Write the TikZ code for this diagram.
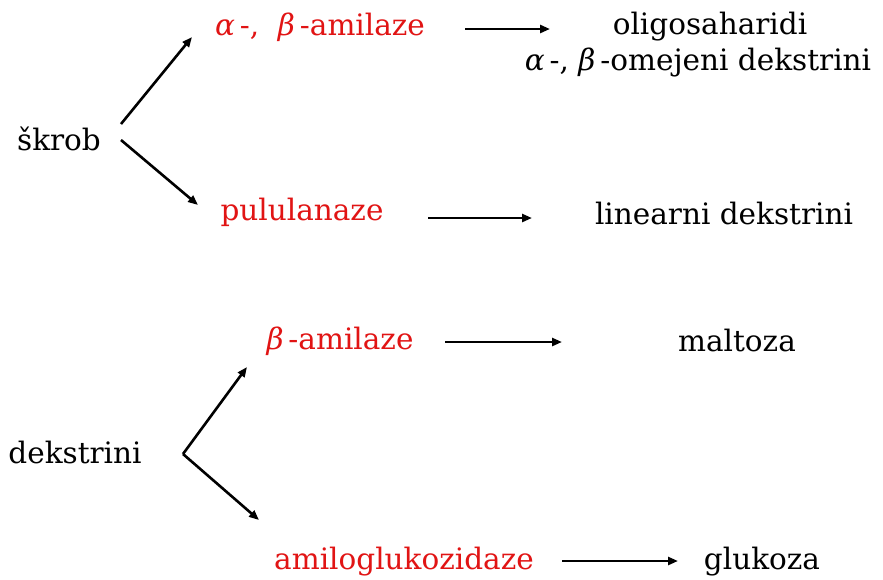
\documentclass[tikz,border=0pt]{standalone}
\usepackage{fontspec}
\setmainfont{DejaVu Serif}
\newfontfamily\grk{DejaVu Serif}
\usetikzlibrary{arrows.meta}
\definecolor{enz}{RGB}{225,20,20}
\begin{document}
\begin{tikzpicture}[x=1pt,y=-1pt,
  lbl/.style={inner sep=0pt, font=\fontsize{29.5}{34}\selectfont},
  enzyme/.style={lbl, text=enz},
  arr/.style={line width=2.6pt, -{Triangle[length=10pt,width=8pt]}}]
\useasboundingbox (0,0) rectangle (883,579);
\fill[white] (0,0) rectangle (883,579);
% nodes
\node[lbl] (skrob) at (59,139) {škrob};
\node[enzyme] (amil) at (320,27) {{\grk\itshape α}\,-, \ {\grk\itshape β}\,-amilaze};
\node[enzyme] (pulu) at (302,212) {pululanaze};
\node[lbl] (oligo) at (710,27) {oligosaharidi};
\node[lbl] (omej) at (698,62) {{\grk\itshape α}\,-, {\grk\itshape β}\,-omejeni dekstrini};
\node[lbl] (linear) at (724,213) {linearni dekstrini};
\node[enzyme] (bamil) at (340,341) {{\grk\itshape β}\,-amilaze};
\node[lbl] (malt) at (737,340) {maltoza};
\node[lbl] (dekst) at (75,452) {dekstrini};
\node[enzyme] (amilo) at (404,562) {amiloglukozidaze};
\node[lbl] (gluk) at (762,562) {glukoza};
% connector ends
\coordinate (sk1) at (121,124);
\coordinate (sk2) at (121,140);
\coordinate (amilIn) at (192,37);
\coordinate (puluIn) at (198,205);
\coordinate (amilOut) at (465,29);
\coordinate (oligoIn) at (550,29);
\coordinate (puluOut) at (428,218);
\coordinate (linearIn) at (532,218);
\coordinate (bamilOut) at (445,342);
\coordinate (maltIn) at (562,342);
\coordinate (dk) at (183,454);
\coordinate (bamilIn) at (247,367);
\coordinate (amiloIn) at (259,520);
\coordinate (amiloOut) at (562,561);
\coordinate (glukIn) at (678,561);
% connectors
\draw[arr] (sk1) -- (amilIn);
\draw[arr] (sk2) -- (puluIn);
\draw[arr] (amilOut) -- (oligoIn);
\draw[arr] (puluOut) -- (linearIn);
\draw[arr] (bamilOut) -- (maltIn);
\draw[arr] (dk) -- (bamilIn);
\draw[arr] (dk) -- (amiloIn);
\draw[arr] (amiloOut) -- (glukIn);
\end{tikzpicture}
\end{document}
